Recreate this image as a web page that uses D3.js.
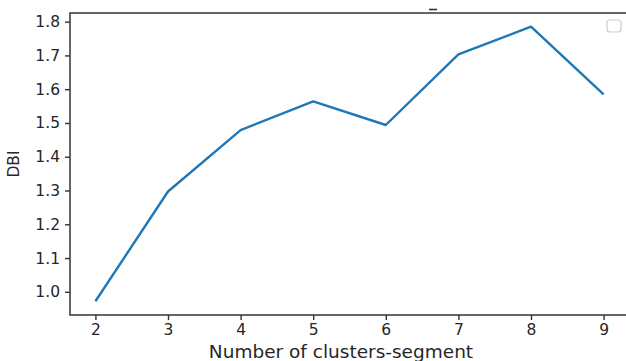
<!DOCTYPE html>
<html>
<head>
<meta charset="utf-8">
<script src="https://cdn.jsdelivr.net/npm/d3@7"></script>
<style>
  body { margin: 0; background: #fff; }
  svg text { font-family: "DejaVu Sans", sans-serif; fill: #262626; }
</style>
</head>
<body>
<svg id="chart" width="626" height="361"></svg>
<script>
// Davies-Bouldin index per number of clusters
const clusters = [2, 3, 4, 5, 6, 7, 8, 9]
const dbi = [0.972, 1.297, 1.479, 1.564, 1.494, 1.703, 1.785, 1.585]
const yTicks = [1.0, 1.1, 1.2, 1.3, 1.4, 1.5, 1.6, 1.7, 1.8]
const xLabel = "Number of clusters-segment"
const yLabel = "DBI"

const svg = d3.select("#chart")
// plot area (right spine falls just outside the picture)
const plotLeft = 70, plotRight = 629, plotTop = 13, plotBottom = 315

// matplotlib style 5% margins around the data
const pad = (lo, hi) => { const m = (hi - lo) * 0.05; return [lo - m, hi + m] }
const x = d3.scaleLinear().domain(pad(d3.min(clusters), d3.max(clusters))).range([plotLeft, plotRight])
const y = d3.scaleLinear().domain(pad(d3.min(dbi), d3.max(dbi))).range([plotBottom, plotTop])

// x axis
const xAxis = svg.append("g")
  .attr("transform", `translate(0,${plotBottom})`)
  .call(d3.axisBottom(x).tickValues(clusters).tickSize(5).tickPadding(4).tickFormat(d3.format("d")))
xAxis.select(".domain").remove()
xAxis.selectAll(".tick line").attr("stroke", "#333").attr("stroke-width", 1.4)
xAxis.selectAll(".tick text").attr("font-size", 15.5).attr("fill", "#262626")

// y axis
const yAxis = svg.append("g")
  .attr("transform", `translate(${plotLeft},0)`)
  .call(d3.axisLeft(y).tickValues(yTicks).tickSize(5).tickPadding(5).tickFormat(d3.format(".1f")))
yAxis.select(".domain").remove()
yAxis.selectAll(".tick line").attr("stroke", "#333").attr("stroke-width", 1.4)
yAxis.selectAll(".tick text").attr("font-size", 15.5).attr("fill", "#262626")

// spines
svg.append("rect")
  .attr("x", plotLeft).attr("y", plotTop)
  .attr("width", plotRight - plotLeft).attr("height", plotBottom - plotTop)
  .attr("fill", "none").attr("stroke", "#333").attr("stroke-width", 1.5)

// the line
const line = d3.line().x((d, i) => x(clusters[i])).y(d => y(d))
svg.append("path")
  .datum(dbi)
  .attr("d", line)
  .attr("fill", "none")
  .attr("stroke", "#1f77b4")
  .attr("stroke-width", 2.4)
  .attr("stroke-linejoin", "round")

// empty legend box
svg.append("rect")
  .attr("x", 607).attr("y", 20).attr("width", 14).attr("height", 12).attr("rx", 3)
  .attr("fill", "#fff").attr("stroke", "#ccc").attr("stroke-width", 1.2)

// remnant of a cropped title
svg.append("line")
  .attr("x1", 429).attr("x2", 437).attr("y1", 9.5).attr("y2", 9.5)
  .attr("stroke", "#333").attr("stroke-width", 1.6)

// axis labels
svg.append("text")
  .attr("x", 341).attr("y", 358)
  .attr("text-anchor", "middle")
  .attr("font-size", 18.5)
  .text(xLabel)

svg.append("text")
  .attr("transform", `translate(19,${(plotTop + plotBottom) / 2}) rotate(-90)`)
  .attr("text-anchor", "middle")
  .attr("font-size", 15.5)
  .text(yLabel)
</script>
</body>
</html>
